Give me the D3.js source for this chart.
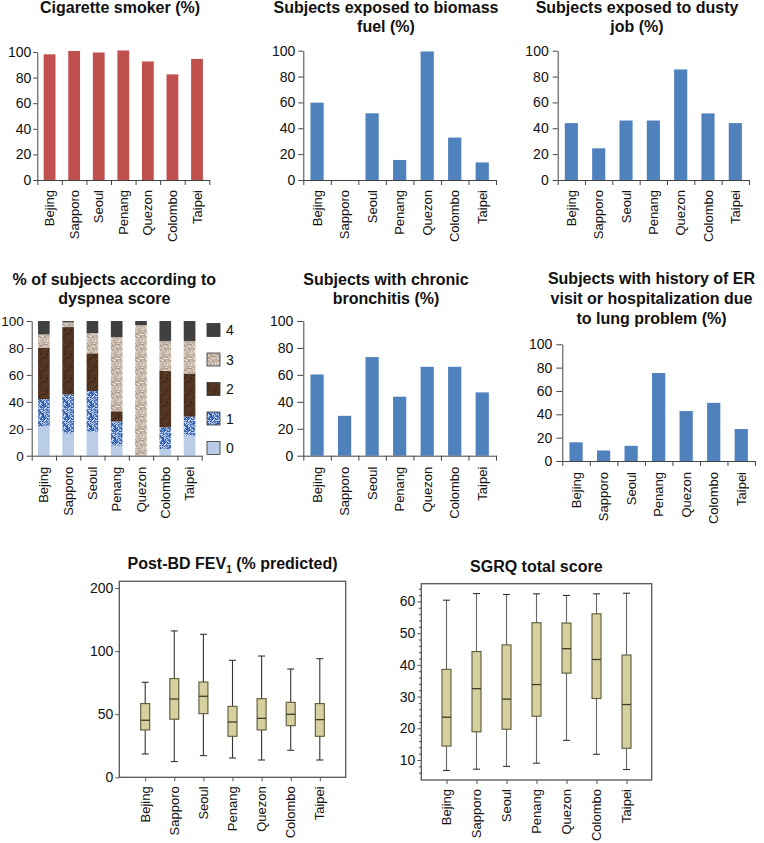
<!DOCTYPE html>
<html>
<head>
<meta charset="utf-8">
<script src="https://cdn.jsdelivr.net/npm/d3@7"></script>
<style>
  html, body { margin: 0; padding: 0; background: #fff; }
  svg { display: block; }
  text { font-family: "Liberation Sans", Arial, sans-serif; fill: #111; }
</style>
</head>
<body>
<svg id="chart" width="764" height="843"></svg>
<script>
// ---------------- DATA ----------------
const cities = ["Bejing", "Sapporo", "Seoul", "Penang", "Quezon", "Colombo", "Taipei"];

const smokerPct     = [98.2, 100.8, 99.6, 101.2, 92.6, 82.5, 94.6];
const biomassPct    = [59.8, 0, 51.6, 15.5, 99.4, 32.8, 13.6];
const dustyPct      = [44, 24.5, 46, 46, 85.5, 51.5, 44];
const bronchitisPct = [60.3, 29.6, 73.2, 43.8, 66, 66, 47];
const erVisitPct    = [16, 9, 13, 75.4, 42.8, 49.8, 27.4];

const dyspneaScores = ["0", "1", "2", "3", "4"];
const dyspnea0 = [22, 16.5, 18, 7.5, 0, 5, 15];
const dyspnea1 = [20, 29, 30, 18, 0, 16, 14];
const dyspnea2 = [38, 50, 28, 7.5, 0, 42, 32];
const dyspnea3 = [10, 3.5, 15, 55, 97, 22, 24];
const dyspnea4 = [10, 1, 9, 12, 3, 15, 15];

const fevMin = [18.5, 12.5, 17.2, 15.3, 13.7, 21.4, 13.7];
const fevQ1  = [37.5, 46, 50.4, 32.5, 37.5, 40.9, 32.5];
const fevMed = [45.2, 62, 64.2, 43.8, 46.7, 49.9, 45.7];
const fevQ3  = [58.4, 78.2, 75.5, 56.2, 62.3, 59.4, 58.4];
const fevMax = [75.3, 116, 113.3, 92.7, 96.1, 85.8, 94];
const fevTickValues = [0, 50, 100, 150];
const fevTickLabels = ["0", "50", "100", "200"];

const sgrqMin = [6.7, 7.1, 8.0, 9.0, 16.2, 11.8, 7.0];
const sgrqQ1  = [14.4, 18.9, 19.7, 23.8, 37.4, 29.4, 13.7];
const sgrqMed = [23.5, 32.5, 29.2, 33.8, 45.1, 41.7, 27.5];
const sgrqQ3  = [38.6, 44.2, 46.3, 53.3, 53.2, 56.1, 43.1];
const sgrqMax = [60.4, 62.5, 62.2, 62.4, 61.9, 62.4, 62.6];
const sgrqTickValues = [10, 20, 30, 40, 50, 60];

const pctTicks = [0, 20, 40, 60, 80, 100];

// ---------------- DRAWING ----------------
const svg = d3.select("#chart");
svg.append("rect").attr("width", 764).attr("height", 843).attr("fill", "#fff");

const RED = "#c0504d", BLUE = "#4f81bd";
const AXIS = "#444";

// ---- patterns for dyspnea score ----
const defs = svg.append("defs");
function hash(i, j, s) {
  let h = Math.imul(i + 17 * s, 374761393) ^ Math.imul(j + 31 * s, 668265263);
  h = Math.imul(h ^ (h >>> 13), 1274126177);
  h = h ^ (h >>> 16);
  return ((h >>> 0) % 1000) / 1000;
}
function texture(id, base, specks, size, seed) {
  const p = defs.append("pattern").attr("id", id).attr("patternUnits", "userSpaceOnUse")
    .attr("width", size).attr("height", size);
  p.append("rect").attr("width", size).attr("height", size).attr("fill", base);
  for (let i = 0; i < size; i++) for (let j = 0; j < size; j++) {
    const r = hash(i, j, seed);
    let acc = 0;
    for (const s of specks) {
      acc += s.p;
      if (r < acc) { p.append("rect").attr("x", i).attr("y", j).attr("width", 1).attr("height", 1).attr("fill", s.c); break; }
    }
  }
}
texture("pat1", "#4876c2", [{c: "#c4d4ee", p: 0.30}, {c: "#2f5699", p: 0.16}, {c: "#7c9fd8", p: 0.14}], 12, 3);
texture("pat2", "#523520", [{c: "#3f2919", p: 0.3}, {c: "#644430", p: 0.2}, {c: "#48301d", p: 0.15}], 12, 7);
texture("pat3", "#c8b8aa", [{c: "#ad998a", p: 0.2}, {c: "#ddd2c8", p: 0.25}, {c: "#baa797", p: 0.15}], 12, 11);
const scoreFills = ["#b9cde7", "url(#pat1)", "url(#pat2)", "url(#pat3)", "#404040"];

function drawTitle(lines, cx, y, lh) {
  const t = svg.append("text").attr("text-anchor", "middle")
    .attr("font-size", 16).attr("font-weight", "bold");
  lines.forEach((l, i) => t.append("tspan").attr("x", cx).attr("y", y + i * lh).text(l));
}

function barFrame(cfg) {
  const xEdge = d3.scaleLinear().domain([0, cities.length]).range([cfg.x0, cfg.x1]);
  const xb = d3.scaleBand().domain(cities).range([cfg.x0, cfg.x1]).paddingInner(0.52).paddingOuter(0.26);
  const y = d3.scaleLinear().domain([0, 100]).range([cfg.yB, cfg.yT]);
  const ya = svg.append("g").attr("transform", `translate(${cfg.x0},0)`)
    .call(d3.axisLeft(y).tickValues(pctTicks).tickSize(cfg.tick || 5).tickPadding(cfg.pad || 3).tickSizeOuter(0));
  ya.select(".domain").attr("stroke", AXIS);
  ya.selectAll(".tick line").attr("stroke", AXIS);
  ya.selectAll("text").attr("font-size", cfg.fs || 14).attr("font-family", "Liberation Sans, Arial, sans-serif").attr("fill", "#111");
  return {xEdge, xb, y};
}
function barAxisX(cfg, s) {
  const xa = svg.append("g").attr("transform", `translate(0,${cfg.yB})`)
    .call(d3.axisBottom(s.xEdge).tickValues(d3.range(cities.length + 1)).tickFormat("").tickSize(5).tickSizeOuter(0));
  xa.select(".domain").attr("stroke", AXIS);
  xa.selectAll(".tick line").attr("stroke", AXIS);
  svg.append("g").selectAll("text").data(cities).join("text")
    .attr("transform", d => `translate(${s.xb(d) + s.xb.bandwidth() / 2},${cfg.yB + cfg.lab}) rotate(-90)`)
    .attr("text-anchor", "end").attr("dy", "0.35em").attr("font-size", 13).text(d => d);
}
function barChart(cfg) {
  const s = barFrame(cfg);
  svg.append("g").selectAll("rect").data(cfg.values).join("rect")
    .attr("x", (d, i) => s.xb(cities[i])).attr("width", s.xb.bandwidth())
    .attr("y", d => s.y(d)).attr("height", d => s.y(0) - s.y(d)).attr("fill", cfg.color);
  barAxisX(cfg, s);
  drawTitle(cfg.title, cfg.tx, cfg.ty, cfg.lh || 19);
}

barChart({values: smokerPct, color: RED, x0: 37.3, x1: 209.3, yT: 52, yB: 180, lab: 10,
  title: ["Cigarette smoker (%)"], tx: 120, ty: 13, pad: 2, tick: 4});
barChart({values: biomassPct, color: BLUE, x0: 303.3, x1: 496, yT: 50.7, yB: 180, lab: 10,
  title: ["Subjects exposed to biomass", "fuel (%)"], tx: 386, ty: 13, pad: 3});
barChart({values: dustyPct, color: BLUE, x0: 557.7, x1: 749, yT: 50.7, yB: 180, lab: 10,
  title: ["Subjects exposed to dusty", "job (%)"], tx: 637, ty: 13, pad: 4});
barChart({values: bronchitisPct, color: BLUE, x0: 303.3, x1: 496, yT: 321, yB: 455.7, lab: 11,
  title: ["Subjects with chronic", "bronchitis (%)"], tx: 386, ty: 285, pad: 4, tick: 6});
barChart({values: erVisitPct, color: BLUE, x0: 562.3, x1: 755, yT: 344.3, yB: 461, lab: 11,
  title: ["Subjects with history of ER", "visit or hospitalization due", "to lung problem (%)"], tx: 651.5, ty: 283.5, lh: 20.3, pad: 4, tick: 6});

// ---- stacked dyspnea ----
(function () {
  const cfg = {x0: 31.7, x1: 201.7, yT: 321, yB: 455.7, lab: 11, pad: 3, tick: 5, fs: 13.5};
  const s = barFrame(cfg);
  const layers = [dyspnea0, dyspnea1, dyspnea2, dyspnea3, dyspnea4];
  const rows = cities.map((c, i) => {
    const o = {city: c};
    dyspneaScores.forEach((k, j) => o[k] = layers[j][i]);
    return o;
  });
  const stack = d3.stack().keys(dyspneaScores)(rows);
  svg.append("g").selectAll("g").data(stack).join("g")
    .attr("fill", (d, i) => scoreFills[i])
    .selectAll("rect").data(d => d).join("rect")
    .attr("x", d => s.xb(d.data.city)).attr("width", s.xb.bandwidth())
    .attr("y", d => s.y(d[1])).attr("height", d => s.y(d[0]) - s.y(d[1]));
  barAxisX(cfg, s);
  drawTitle(["% of subjects according to", "dyspnea score"], 114.3, 285, 19);
  const lg = svg.append("g");
  const order = dyspneaScores.slice().reverse();
  const ly = d3.scalePoint().domain(order).range([330, 448]);
  order.forEach(k => {
    const i = dyspneaScores.indexOf(k);
    lg.append("rect").attr("x", 207).attr("y", ly(k) - 6.5).attr("width", 13).attr("height", 13)
      .attr("fill", scoreFills[i]).attr("stroke", "#333").attr("stroke-width", 0.8);
    lg.append("text").attr("x", 226).attr("y", ly(k)).attr("dy", "0.36em").attr("font-size", 14).text(k);
  });
})();

// ---- box plots ----
function boxPlot(cfg) {
  const x = d3.scalePoint().domain(cities).range([cfg.left, cfg.right]).padding(cfg.padding);
  const y = d3.scaleLinear().domain(cfg.domain).range([cfg.bottom, cfg.top]);
  svg.append("rect").attr("x", cfg.left).attr("y", cfg.top)
    .attr("width", cfg.right - cfg.left).attr("height", cfg.bottom - cfg.top)
    .attr("fill", "none").attr("stroke", "#555").attr("stroke-width", 1.3);
  const ya = svg.append("g").attr("transform", `translate(${cfg.left},0)`)
    .call(d3.axisLeft(y).tickValues(cfg.ticks).tickFormat((d, i) => cfg.labels ? cfg.labels[i] : d)
      .tickSize(4).tickPadding(2).tickSizeOuter(0));
  ya.select(".domain").remove();
  ya.selectAll(".tick line").attr("stroke", "#555");
  ya.selectAll("text").attr("font-size", 14).attr("font-family", "Liberation Sans, Arial, sans-serif").attr("fill", "#111");
  if (cfg.minor) {
    svg.append("g").attr("transform", `translate(${cfg.left},0)`)
      .call(d3.axisLeft(y).tickValues(cfg.minor).tickFormat("").tickSize(2.5).tickSizeOuter(0))
      .call(g => g.select(".domain").remove())
      .selectAll(".tick line").attr("stroke", "#555");
  }
  const xa = svg.append("g").attr("transform", `translate(0,${cfg.bottom})`)
    .call(d3.axisBottom(x).tickSize(4).tickFormat("").tickSizeOuter(0));
  xa.select(".domain").remove();
  xa.selectAll(".tick line").attr("stroke", "#555");
  svg.append("g").selectAll("text").data(cities).join("text")
    .attr("transform", d => `translate(${x(d)},${cfg.bottom + 9}) rotate(-90)`)
    .attr("text-anchor", "end").attr("dy", "0.35em").attr("font-size", 13).text(d => d);

  const bw = 9, cw = 7;
  const g = svg.append("g").selectAll("g").data(cities).join("g");
  g.append("line").attr("x1", d => x(d)).attr("x2", d => x(d))
    .attr("y1", (d, i) => y(cfg.max[i])).attr("y2", (d, i) => y(cfg.q3[i]))
    .attr("stroke", cfg.whisker).attr("stroke-width", 1.1);
  g.append("line").attr("x1", d => x(d)).attr("x2", d => x(d))
    .attr("y1", (d, i) => y(cfg.q1[i])).attr("y2", (d, i) => y(cfg.min[i]))
    .attr("stroke", cfg.whisker).attr("stroke-width", 1.1);
  [cfg.max, cfg.min].forEach(arr => {
    g.append("line").attr("x1", d => x(d) - cw / 2).attr("x2", d => x(d) + cw / 2)
      .attr("y1", (d, i) => y(arr[i])).attr("y2", (d, i) => y(arr[i]))
      .attr("stroke", "#333").attr("stroke-width", 1.1);
  });
  g.append("rect").attr("x", d => x(d) - bw / 2).attr("width", bw)
    .attr("y", (d, i) => y(cfg.q3[i])).attr("height", (d, i) => y(cfg.q1[i]) - y(cfg.q3[i]))
    .attr("fill", "#d5d09e").attr("stroke", "#5c5838").attr("stroke-width", 1.1);
  g.append("line").attr("x1", d => x(d) - bw / 2).attr("x2", d => x(d) + bw / 2)
    .attr("y1", (d, i) => y(cfg.med[i])).attr("y2", (d, i) => y(cfg.med[i]))
    .attr("stroke", "#3f3c25").attr("stroke-width", 1.3);

  const t = svg.append("text").attr("text-anchor", "middle").attr("x", cfg.tx).attr("y", cfg.ty)
    .attr("font-size", 16).attr("font-weight", "bold");
  cfg.title(t);
}

boxPlot({left: 119.3, right: 345.7, top: 581.3, bottom: 777.3, padding: 0.89, domain: [0, 155.3],
  ticks: fevTickValues, labels: fevTickLabels, min: fevMin, q1: fevQ1, med: fevMed, q3: fevQ3, max: fevMax,
  whisker: "#333", tx: 232.5, ty: 569,
  title: t => { t.append("tspan").text("Post-BD FEV"); t.append("tspan").attr("font-size", 10).attr("dy", 4).text("1");
                t.append("tspan").attr("dy", -4).text(" (% predicted)"); }});

boxPlot({left: 421.3, right: 651.7, top: 583.7, bottom: 780, padding: 0.84, domain: [3.7, 65.6],
  ticks: sgrqTickValues, minor: d3.range(6, 66, 2).filter(v => v % 10 !== 0),
  min: sgrqMin, q1: sgrqQ1, med: sgrqMed, q3: sgrqQ3, max: sgrqMax,
  whisker: "#666", tx: 536.3, ty: 571.5,
  title: t => t.text("SGRQ total score")});
</script>
</body>
</html>
